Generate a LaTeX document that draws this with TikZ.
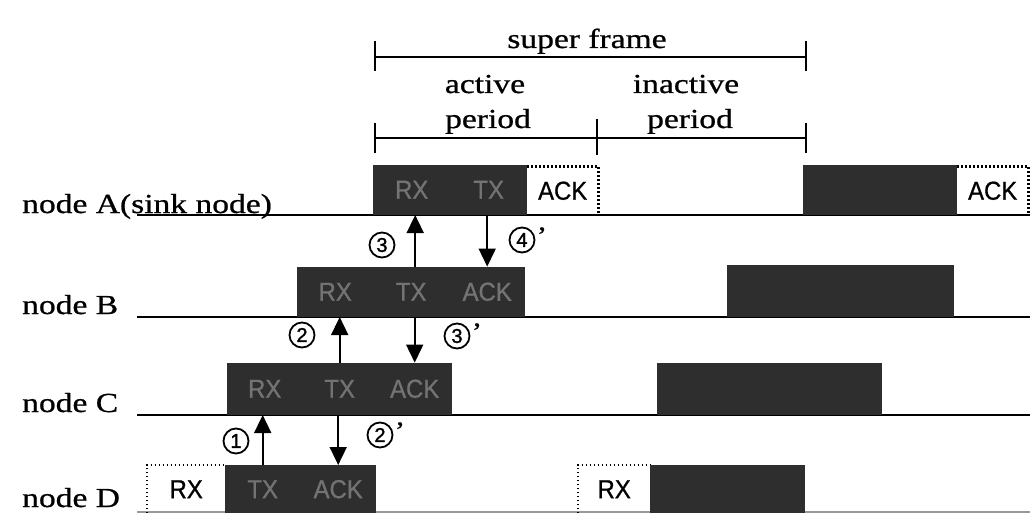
\documentclass[tikz,border=0pt]{standalone}
\usepackage{fontspec}
\setmainfont{Liberation Serif}[FakeStretch=1.22,FakeBold=0.8]
\newfontfamily\boxfont{Liberation Sans}[FakeStretch=0.92,FakeBold=0.8]
\newfontfamily\numfont{Liberation Sans}[FakeBold=1.5]
\usetikzlibrary{arrows.meta,calc}
\begin{document}
\begin{tikzpicture}[x=1pt,y=-1pt,
  lbl/.style={font=\fontsize{27.5}{32}\selectfont, inner sep=0pt, anchor=base},
  nodelbl/.style={font=\fontsize{27.5}{32}\selectfont, inner sep=0pt, anchor=base west},
  seg/.style={fill=black!82, draw=none, minimum height=50pt, inner sep=0pt, anchor=south west, text=black!55, font=\boxfont\fontsize{26}{30}\selectfont},
  wbox/.style={inner sep=0pt, anchor=south west, minimum height=48pt, font=\boxfont\fontsize{26}{30}\selectfont},
  dotb/.style={line width=2.4pt, dash pattern=on 1.8pt off 2.2pt},
  tline/.style={line width=2.6pt},
  brk/.style={line width=2pt},
  arr/.style={line width=1.6pt, -{Triangle[length=18pt,width=17pt]}},
  num/.style={circle, draw, line width=1.8pt, minimum size=25pt, inner sep=0pt, font=\numfont\fontsize{20}{21}\selectfont},
  prime/.style={font=\fontsize{26}{28}\selectfont, inner sep=0pt}
]
\useasboundingbox (0,0) rectangle (1035,513);

% ---- super frame bracket ----
\coordinate (sfL) at (375,57);
\coordinate (sfR) at (806,57);
\draw[brk] (sfL) -- (sfR);
\draw[brk] ($(sfL)+(0,-16)$) -- ($(sfL)+(0,14)$);
\draw[brk] ($(sfR)+(0,-16)$) -- ($(sfR)+(0,14)$);
\node[lbl] (sf) at (587,48) {super frame};

% ---- active / inactive bracket ----
\coordinate (apL) at (375,138);
\coordinate (apM) at (597,138);
\coordinate (apR) at (806,138);
\draw[brk] (apL) -- (apR);
\draw[brk] ($(apL)+(0,-15)$) -- ($(apL)+(0,15)$);
\draw[brk] ($(apM)+(0,-19)$) -- ($(apM)+(0,17)$);
\draw[brk] ($(apR)+(0,-15)$) -- ($(apR)+(0,15)$);
\node[lbl] (act) at (485,93) {active};
\node[lbl] (actp) at (488,128) {period};
\node[lbl] (inact) at (686,93) {inactive};
\node[lbl] (inactp) at (690,128) {period};

% ---- node labels ----
\node[nodelbl] (lA) at (22,213) {node A(sink node)};
\node[nodelbl] (lB) at (22,314) {node B};
\node[nodelbl] (lC) at (22,412) {node C};
\node[nodelbl] (lD) at (22,507) {node D};

% ---- time lines ----
\coordinate (Al) at (137,215); \coordinate (Ar) at (1030,215);
\coordinate (Bl) at (137,317); \coordinate (Br) at (1030,317);
\coordinate (Cl) at (137,415); \coordinate (Cr) at (1030,415);
\coordinate (Dl) at (137,512); \coordinate (Dr) at (1030,512);
\draw[tline] (Al) -- (Ar);
\draw[tline] (Bl) -- (Br);
\draw[tline] (Cl) -- (Cr);
\draw[line width=1.5pt, black!40] (Dl) -- (Dr);

% ---- node A ----
\node[seg, minimum width=77pt] (A1rx) at (373,215) {RX};
\node[seg, minimum width=77pt] (A1tx) at (450,215) {TX};
\node[wbox, minimum width=71pt] (A1ack) at (527,215) {ACK};
\draw[dotb] (A1ack.north west) -- (A1ack.north east) -- (A1ack.south east);
\node[seg, minimum width=154pt, minimum height=50pt] (A2) at (803,215) {};
\node[wbox, minimum width=71pt] (A2ack) at (957,215) {ACK};
\draw[dotb] (A2ack.north west) -- (A2ack.north east) -- (A2ack.south east);

% ---- node B ----
\node[seg, minimum width=76pt] (B1rx) at (297,317) {RX};
\node[seg, minimum width=76pt] (B1tx) at (373,317) {TX};
\node[seg, minimum width=76pt] (B1ack) at (449,317) {ACK};
\node[seg, minimum width=227pt, minimum height=52pt] (B2) at (727,317) {};

% ---- node C ----
\node[seg, minimum width=75pt, minimum height=52pt] (C1rx) at (227,415) {RX};
\node[seg, minimum width=75pt, minimum height=52pt] (C1tx) at (302,415) {TX};
\node[seg, minimum width=75pt, minimum height=52pt] (C1ack) at (377,415) {ACK};
\node[seg, minimum width=225pt, minimum height=52pt] (C2) at (657,415) {};

% ---- node D ----
\node[wbox, minimum width=78pt, anchor=north west] (D1rx) at (147,465) {RX};
\draw[dotb] (D1rx.south west) -- (D1rx.north west) -- (D1rx.north east);
\node[seg, minimum width=75pt, minimum height=48pt, anchor=north west] (D1tx) at (225,465) {TX};
\node[seg, minimum width=76pt, minimum height=48pt, anchor=north west] (D1ack) at (300,465) {ACK};
\node[wbox, minimum width=72pt, anchor=north west] (D2rx) at (578,465) {RX};
\draw[dotb] (D2rx.south west) -- (D2rx.north west) -- (D2rx.north east);
\node[seg, minimum width=155pt, minimum height=48pt, anchor=north west] (D2) at (650,465) {};

% ---- arrows ----
\draw[arr] (D1tx.north) -- (D1tx.north |- Cl);
\draw[arr] (D1ack.north |- Cl) -- (D1ack.north);
\draw[arr] (C1tx.north) -- (C1tx.north |- Bl);
\draw[arr] (C1ack.north |- Bl) -- (C1ack.north);
\draw[arr] ($(B1tx.north)+(4,0)$) -- ($(B1tx.north |- Al)+(4,0)$);
\draw[arr] (B1ack.north |- Al) -- (B1ack.north);

% ---- step labels ----
\node[num] (n1) at (236,441) {1};
\node[num] (n2p) at (380,435) {2};
\node[prime, anchor=west] (n2pp) at ($(n2p.east)+(1,-4)$) {’};
\node[num] (n2) at (302,335) {2};
\node[num] (n3p) at (457,336) {3};
\node[prime, anchor=west] (n3pp) at ($(n3p.east)+(1,-4)$) {’};
\node[num] (n3) at (382,245) {3};
\node[num] (n4p) at (522,240) {4};
\node[prime, anchor=west] (n4pp) at ($(n4p.east)+(1,-4)$) {’};
\end{tikzpicture}
\end{document}
